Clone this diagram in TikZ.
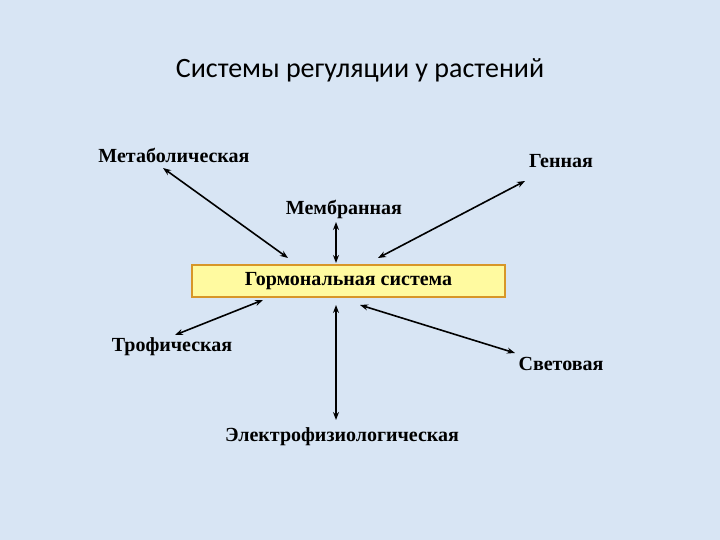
\documentclass[tikz,border=0pt]{standalone}
\usepackage{fontspec}
\setmainfont{Liberation Serif}
\newfontfamily\titlefont{Carlito}
\usetikzlibrary{arrows.meta}
\definecolor{bgblue}{RGB}{216,229,244}
\definecolor{boxfill}{RGB}{255,250,160}
\definecolor{boxdraw}{RGB}{215,150,40}
\tikzset{
  lbl/.style={font=\fontsize{20}{24}\selectfont\bfseries, inner sep=0pt},
  conn/.style={line width=1.6pt, {Stealth[length=8pt,width=6pt]}-{Stealth[length=8pt,width=6pt]}},
}
\begin{document}
\begin{tikzpicture}[x=1pt,y=-1pt]
\fill[bgblue] (0,0) rectangle (720,540);
\useasboundingbox (0,0) rectangle (720,540);
\node[font=\titlefont\fontsize{28}{32}\selectfont, inner sep=0pt] (title) at (360,70) {Системы регуляции у растений};
\node[lbl] (metab) at (174,155) {Метаболическая};
\node[lbl] (gene) at (561,161) {Генная};
\node[lbl] (membr) at (344,209) {Мембранная};
\node[lbl, draw=boxdraw, fill=boxfill, line width=1.2pt, minimum width=313pt, minimum height=32pt] (hormon) at (348.5,281) {Гормональная система};
\node[lbl] (troph) at (172,347) {Трофическая};
\node[lbl] (light) at (561,364) {Световая};
\node[lbl] (electro) at (342,437) {Электрофизиологическая};
\coordinate (m1) at (163,168); \coordinate (m2) at (288,258);
\coordinate (b1) at (336,222); \coordinate (b2) at (336,263);
\coordinate (g1) at (525,181); \coordinate (g2) at (378,258);
\coordinate (t1) at (175,335); \coordinate (t2) at (263,300);
\coordinate (e1) at (336,305); \coordinate (e2) at (336,420);
\coordinate (l1) at (360,305); \coordinate (l2) at (515,353);
\draw[conn] (m1) -- (m2);
\draw[conn] (b1) -- (b2);
\draw[conn] (g1) -- (g2);
\draw[conn] (t1) -- (t2);
\draw[conn] (e1) -- (e2);
\draw[conn] (l1) -- (l2);
\end{tikzpicture}
\end{document}
